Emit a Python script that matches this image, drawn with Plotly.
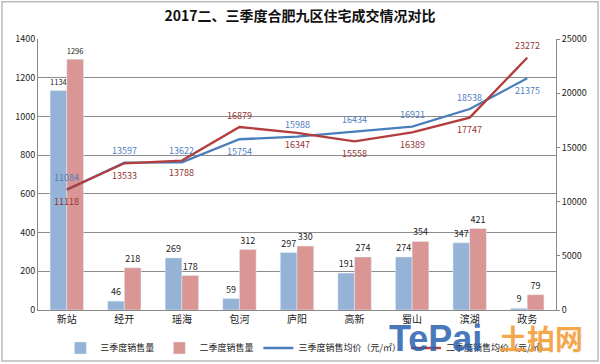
import plotly.graph_objects as go

categories = ["新站", "经开", "瑶海", "包河", "庐阳", "高新", "蜀山", "滨湖", "政务"]
q3_volume = [1134, 46, 269, 59, 297, 191, 274, 347, 9]
q2_volume = [1296, 218, 178, 312, 330, 274, 354, 421, 79]
q3_price = [11084, 13597, 13622, 15754, 15988, 16434, 16921, 18538, 21375]
q2_price = [11118, 13533, 13788, 16879, 16347, 15558, 16389, 17747, 23272]

# +1 = label above the line point, -1 = below
q3_label_side = [1, 1, 1, -1, 1, 1, 1, 1, -1]
q2_label_side = [-1, -1, -1, 1, -1, -1, -1, -1, 1]

FONT = "Noto Sans CJK SC"

fig = go.Figure()
fig.add_trace(go.Bar(
    x=categories, y=q3_volume, name="三季度销售量",
    marker=dict(color="#95B3D7"),
    text=q3_volume, textposition="outside", cliponaxis=False,
    textfont=dict(size=9, color="#222222", family=FONT),
))
fig.add_trace(go.Bar(
    x=categories, y=q2_volume, name="二季度销售量",
    marker=dict(color="#D99694"),
    text=q2_volume, textposition="outside", cliponaxis=False,
    textfont=dict(size=9, color="#222222", family=FONT),
))
fig.add_trace(go.Scatter(
    x=categories, y=q3_price, name="三季度销售均价（元/㎡）", yaxis="y2",
    mode="lines", line=dict(color="#4A7EBB", width=2.3),
))
fig.add_trace(go.Scatter(
    x=categories, y=q2_price, name="二季度销售均价（元/㎡）", yaxis="y2",
    mode="lines", line=dict(color="#B33C3C", width=2.3),
))

annotations = []
for cat, val, side in zip(categories, q3_price, q3_label_side):
    annotations.append(dict(x=cat, y=val, xref="x", yref="y2", text=str(val), showarrow=False,
                            yshift=12 * side, font=dict(size=9, color="#4F81BD", family=FONT)))
for cat, val, side in zip(categories, q2_price, q2_label_side):
    annotations.append(dict(x=cat, y=val, xref="x", yref="y2", text=str(val), showarrow=False,
                            yshift=12 * side, font=dict(size=9, color="#943634", family=FONT)))
# watermark
annotations.append(dict(x=0.768, y=-0.105, xref="paper", yref="paper", text="<b>TePai</b>",
                        showarrow=False, xanchor="center", yanchor="middle", opacity=0.85,
                        font=dict(size=36, color="#2A62AE", family="Liberation Sans")))
annotations.append(dict(x=0.971, y=-0.105, xref="paper", yref="paper", text="<b>土拍网</b>",
                        showarrow=False, xanchor="center", yanchor="middle", opacity=0.85,
                        font=dict(size=28, color="#F39A2E", family=FONT)))

fig.update_layout(
    width=600, height=364,
    margin=dict(l=38, r=44, t=39, b=54, autoexpand=False),
    paper_bgcolor="white", plot_bgcolor="white",
    font=dict(family=FONT, size=10, color="#222222"),
    title=dict(text="<b>2017二、三季度合肥九区住宅成交情况对比</b>", x=0.5, xanchor="center",
               y=0.955, yanchor="middle", font=dict(size=14, color="#111111", family=FONT)),
    barmode="group", bargap=0.42, bargroupgap=0,
    showlegend=True,
    legend=dict(orientation="h", x=0.52, xanchor="center", y=0.044, yref="container",
                yanchor="middle", font=dict(size=9, family=FONT), traceorder="normal",
                itemwidth=30, tracegroupgap=0, bgcolor="rgba(0,0,0,0)"),
    xaxis=dict(showline=True, linecolor="#888888", linewidth=1, ticks="",
               tickfont=dict(size=10, family=FONT)),
    yaxis=dict(range=[0, 1400], dtick=200, showgrid=True, gridcolor="#8C8C8C", gridwidth=1,
               showline=True, linecolor="#888888", zeroline=False,
               tickfont=dict(size=9, family=FONT)),
    yaxis2=dict(range=[0, 25000], dtick=5000, tickformat="d", overlaying="y", side="right",
                showgrid=False, showline=True, linecolor="#888888", ticks="outside", ticklen=3,
                tickcolor="#888888", zeroline=False, tickfont=dict(size=9, family=FONT)),
    annotations=annotations,
    shapes=[dict(type="rect", xref="paper", yref="paper", x0=-0.0695, x1=1.081,
                 y0=-0.188, y1=1.137, line=dict(color="#BBBBBB", width=1.5))],
)
fig.write_html("out.html", config={"displayModeBar": False},
               post_script="document.body.style.margin='0';")
